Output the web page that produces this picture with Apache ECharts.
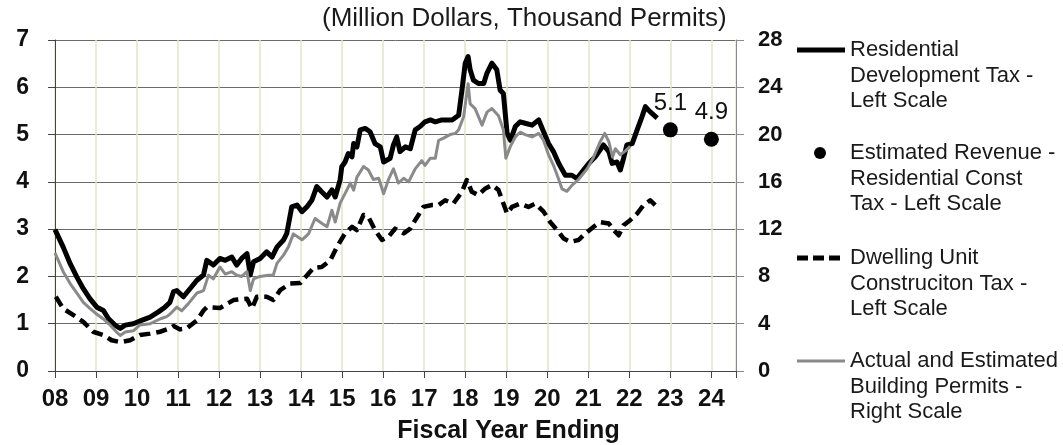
<!DOCTYPE html>
<html>
<head>
<meta charset="utf-8">
<script src="https://cdn.jsdelivr.net/npm/echarts@6/dist/echarts.min.js"></script>
<style>
  html, body { margin: 0; padding: 0; background: #ffffff; }
  #chart { width: 1063px; height: 445px; }
</style>
</head>
<body>
<div id="chart"></div>
<script>
// Residential Development Tax (million dollars, left scale), by fiscal year
const devTaxYears = [8.00, 8.20, 8.37, 8.53, 8.69, 8.85, 9.02, 9.18, 9.30, 9.46, 9.59, 9.71, 9.91, 10.11, 10.32, 10.52, 10.68, 10.80, 10.89, 10.97, 11.13, 11.29, 11.46, 11.62, 11.70, 11.86, 12.02, 12.15, 12.31, 12.43, 12.55, 12.68, 12.76, 12.84, 13.00, 13.16, 13.29, 13.41, 13.57, 13.65, 13.77, 13.90, 14.02, 14.14, 14.26, 14.38, 14.50, 14.63, 14.75, 14.83, 14.95, 14.99, 15.07, 15.15, 15.24, 15.28, 15.36, 15.44, 15.56, 15.68, 15.80, 15.93, 16.01, 16.17, 16.25, 16.33, 16.41, 16.54, 16.66, 16.78, 16.90, 17.02, 17.15, 17.27, 17.43, 17.68, 17.84, 17.92, 18.00, 18.07, 18.12, 18.20, 18.32, 18.45, 18.53, 18.65, 18.77, 18.85, 18.93, 19.02, 19.10, 19.22, 19.34, 19.46, 19.63, 19.79, 19.91, 20.03, 20.15, 20.28, 20.44, 20.60, 20.72, 20.85, 21.01, 21.17, 21.37, 21.50, 21.58, 21.70, 21.78, 21.86, 21.94, 22.07, 22.19, 22.31, 22.39, 22.51, 22.68];
const devTaxValues = [2.99, 2.62, 2.27, 1.99, 1.74, 1.53, 1.35, 1.28, 1.11, 0.97, 0.90, 0.97, 1.00, 1.07, 1.14, 1.25, 1.35, 1.45, 1.68, 1.70, 1.57, 1.74, 1.92, 2.03, 2.34, 2.24, 2.38, 2.34, 2.41, 2.24, 2.38, 2.48, 2.03, 2.31, 2.38, 2.52, 2.41, 2.62, 2.77, 2.91, 3.47, 3.51, 3.37, 3.47, 3.61, 3.90, 3.79, 3.68, 3.83, 3.68, 4.04, 4.32, 4.42, 4.60, 4.53, 4.81, 4.74, 5.10, 5.13, 5.06, 4.81, 4.74, 4.42, 4.50, 4.78, 4.95, 4.64, 4.74, 4.70, 5.10, 5.17, 5.27, 5.31, 5.27, 5.31, 5.31, 5.41, 5.94, 6.51, 6.65, 6.37, 6.15, 6.08, 6.08, 6.30, 6.51, 6.37, 5.94, 5.87, 5.03, 4.88, 5.17, 5.27, 5.24, 5.20, 5.31, 5.06, 4.81, 4.64, 4.39, 4.14, 4.14, 4.07, 4.21, 4.39, 4.53, 4.78, 4.64, 4.39, 4.42, 4.25, 4.50, 4.78, 4.81, 5.10, 5.38, 5.59, 5.48, 5.35];

// Estimated Revenue - Residential Construction Tax (million dollars, left scale)
const estYears = [23, 24];
const estValues = [5.1, 4.9];

// Dwelling Unit Construction Tax (million dollars, left scale)
const dwellYears = [8.02, 8.20, 8.45, 8.69, 8.93, 9.18, 9.38, 9.59, 9.83, 10.07, 10.32, 10.56, 10.80, 10.89, 11.05, 11.21, 11.46, 11.62, 11.70, 12.02, 12.35, 12.68, 12.80, 12.92, 13.16, 13.32, 13.49, 13.73, 13.98, 14.30, 14.50, 14.71, 14.87, 15.07, 15.24, 15.36, 15.52, 15.64, 15.80, 15.97, 16.13, 16.29, 16.50, 16.66, 16.78, 16.86, 16.98, 17.19, 17.35, 17.51, 17.71, 17.92, 18.04, 18.16, 18.32, 18.49, 18.65, 18.81, 18.93, 19.02, 19.14, 19.34, 19.54, 19.71, 19.91, 20.07, 20.24, 20.40, 20.56, 20.76, 20.93, 21.13, 21.29, 21.50, 21.62, 21.74, 21.86, 22.02, 22.19, 22.35, 22.51, 22.63];
const dwellValues = [1.57, 1.32, 1.18, 1.04, 0.83, 0.76, 0.65, 0.61, 0.65, 0.76, 0.79, 0.83, 0.90, 0.95, 0.88, 0.90, 1.07, 1.28, 1.35, 1.33, 1.50, 1.53, 1.32, 1.57, 1.57, 1.50, 1.71, 1.85, 1.86, 2.18, 2.20, 2.34, 2.62, 2.91, 3.05, 2.98, 3.30, 3.26, 2.98, 2.77, 2.84, 3.01, 2.91, 3.01, 3.19, 3.30, 3.47, 3.51, 3.51, 3.61, 3.54, 3.79, 4.04, 3.79, 3.72, 3.86, 3.93, 3.83, 3.54, 3.33, 3.47, 3.54, 3.47, 3.54, 3.37, 3.15, 2.98, 2.80, 2.73, 2.77, 2.91, 3.05, 3.15, 3.12, 2.98, 2.87, 3.08, 3.19, 3.33, 3.51, 3.61, 3.51];

// Actual and Estimated Building Permits (thousand permits, right scale)
const permitYears = [8.00, 8.20, 8.37, 8.53, 8.69, 8.85, 9.02, 9.18, 9.34, 9.50, 9.59, 9.71, 9.91, 10.07, 10.32, 10.56, 10.72, 10.80, 10.97, 11.09, 11.25, 11.46, 11.62, 11.74, 11.86, 12.02, 12.15, 12.31, 12.43, 12.55, 12.68, 12.76, 12.84, 13.00, 13.20, 13.32, 13.41, 13.57, 13.69, 13.81, 14.02, 14.18, 14.34, 14.50, 14.63, 14.75, 14.83, 14.95, 15.07, 15.20, 15.28, 15.36, 15.52, 15.64, 15.76, 15.89, 16.01, 16.13, 16.25, 16.37, 16.50, 16.62, 16.78, 16.94, 17.02, 17.15, 17.27, 17.35, 17.47, 17.63, 17.76, 17.84, 17.96, 18.07, 18.12, 18.24, 18.41, 18.53, 18.65, 18.81, 18.93, 18.99, 19.10, 19.22, 19.34, 19.46, 19.63, 19.79, 19.91, 20.03, 20.15, 20.28, 20.36, 20.48, 20.60, 20.76, 20.97, 21.13, 21.29, 21.40, 21.50, 21.59, 21.66, 21.78, 21.90, 22.02];
const permitValues = [10.0, 8.4, 7.4, 6.6, 5.8, 5.3, 4.8, 4.4, 3.9, 3.3, 3.0, 3.3, 3.4, 3.9, 4.0, 4.4, 4.6, 4.8, 5.4, 5.1, 5.7, 6.6, 6.8, 8.1, 7.8, 8.8, 8.2, 8.4, 8.1, 8.0, 8.4, 6.8, 7.8, 8.0, 8.1, 8.1, 9.1, 9.8, 10.5, 11.6, 11.1, 11.6, 12.9, 12.5, 12.2, 13.6, 12.6, 14.2, 15.0, 15.9, 15.3, 16.4, 17.3, 17.0, 16.2, 16.3, 15.0, 16.2, 17.1, 15.9, 16.3, 16.0, 17.1, 17.8, 17.4, 18.0, 18.0, 19.5, 19.7, 20.0, 20.1, 20.4, 21.5, 24.3, 22.6, 22.2, 20.8, 21.9, 22.2, 21.6, 20.4, 18.0, 19.0, 19.8, 20.2, 20.0, 19.8, 20.1, 19.5, 18.3, 17.4, 16.2, 15.4, 15.2, 15.7, 16.2, 17.1, 18.1, 19.4, 20.1, 19.4, 18.1, 18.8, 18.3, 18.6, 19.0];

// Axis ranges and tick steps
const leftAxisMax = 7, leftAxisStep = 1;
const rightAxisMax = 28, rightAxisStep = 4;
const yearMin = 8, yearMax = 24.6;

// Legend entries (swatch kind + wrapped label lines)
const legendEntries = [
  { kind: 'solid', lines: ['Residential', 'Development Tax -', 'Left Scale'] },
  { kind: 'dot',   lines: ['Estimated Revenue -', 'Residential Const', 'Tax - Left Scale'] },
  { kind: 'dash',  lines: ['Dwelling Unit', 'Construciton Tax -', 'Left Scale'] },
  { kind: 'gray',  lines: ['Actual and Estimated', 'Building Permits -', 'Right Scale'] }
];

const FONT = '"Liberation Sans", Arial, sans-serif';
const GRAY = '#8a8a8a';
const zip = (xs, ys) => xs.map((x, i) => [x, ys[i]]);

// Legend drawn as graphic elements: swatch beside a three-line label
const legendTops = [50, 153, 258, 361];
const legendGraphics = [];
legendEntries.forEach((entry, i) => {
  const cy = legendTops[i];
  if (entry.kind === 'dot') {
    legendGraphics.push({ type: 'circle', shape: { cx: 820, cy: cy, r: 6 }, style: { fill: '#000' } });
  } else {
    const style = { stroke: entry.kind === 'gray' ? GRAY : '#000', lineWidth: entry.kind === 'gray' ? 3 : 5 };
    if (entry.kind === 'dash') style.lineDash = [11, 5];
    legendGraphics.push({ type: 'line', shape: { x1: 797, y1: cy, x2: 845, y2: cy }, style: style });
  }
  legendGraphics.push({
    type: 'text', x: 850, y: cy - 12.75,
    style: { text: entry.lines.join('\n'), font: '22px ' + FONT, fill: '#1a1a1a', lineHeight: 25.5, verticalAlign: 'top' }
  });
});

const chart = echarts.init(document.getElementById('chart'), null, { renderer: 'canvas' });
chart.setOption({
  animation: false,
  backgroundColor: '#ffffff',
  title: {
    text: '(Million Dollars, Thousand Permits)',
    left: 322, top: 6, padding: 0,
    textStyle: { fontFamily: FONT, fontSize: 26, fontWeight: 'normal', color: '#1a1a1a' }
  },
  grid: { left: 55, right: 327, top: 40, bottom: 74, containLabel: false, outerBoundsMode: 'none' },
  xAxis: {
    type: 'value', min: yearMin, max: yearMax, interval: 1,
    name: 'Fiscal Year Ending', nameLocation: 'middle', nameGap: 48,
    nameTextStyle: { fontFamily: FONT, fontSize: 25, fontWeight: 'bold', color: '#111', padding: [0, 0, 0, 226] },
    axisLine: { show: true, onZero: false, lineStyle: { color: '#444', width: 1 } },
    axisTick: { show: true, length: 7, lineStyle: { color: '#444' } },
    axisLabel: {
      margin: 16, fontFamily: FONT, fontSize: 24, fontWeight: 'bold', color: '#111',
      formatter: v => Number.isInteger(v) ? String(v).padStart(2, '0') : ''
    },
    splitLine: { show: true, lineStyle: { color: '#dfe7c6', width: 1.5 } }
  },
  yAxis: [
    {
      type: 'value', min: 0, max: leftAxisMax, interval: leftAxisStep, position: 'left',
      axisLine: { show: true, lineStyle: { color: '#444', width: 1 } },
      axisTick: { show: true, length: 7, lineStyle: { color: '#444' } },
      axisLabel: { margin: 26, fontFamily: FONT, fontSize: 23, fontWeight: 'bold', color: '#111' },
      splitLine: { show: true, lineStyle: { color: '#6a6a6a', width: 1 } }
    },
    {
      type: 'value', min: 0, max: rightAxisMax, interval: rightAxisStep, position: 'right',
      axisLine: { show: true, lineStyle: { color: '#8a8a8a', width: 1 } },
      axisTick: { show: true, length: 8, lineStyle: { color: '#8a8a8a' } },
      axisLabel: { margin: 22, fontFamily: FONT, fontSize: 22, fontWeight: 'bold', color: '#111' },
      splitLine: { show: false }
    }
  ],
  series: [
    {
      name: 'Residential Development Tax - Left Scale', type: 'line', yAxisIndex: 0,
      data: zip(devTaxYears, devTaxValues), symbol: 'none',
      lineStyle: { color: '#000', width: 5, join: 'round' }, z: 3
    },
    {
      name: 'Dwelling Unit Construciton Tax - Left Scale', type: 'line', yAxisIndex: 0,
      data: zip(dwellYears, dwellValues), symbol: 'none',
      lineStyle: { color: '#000', width: 4.5, type: [11, 6], cap: 'butt', join: 'round' }, z: 3
    },
    {
      name: 'Actual and Estimated Building Permits - Right Scale', type: 'line', yAxisIndex: 1,
      data: zip(permitYears, permitValues), symbol: 'none',
      lineStyle: { color: GRAY, width: 3, join: 'round' }, z: 4
    },
    {
      name: 'Estimated Revenue - Residential Const Tax - Left Scale', type: 'scatter', yAxisIndex: 0,
      data: zip(estYears, estValues), symbol: 'circle', symbolSize: 15,
      itemStyle: { color: '#000', opacity: 1 },
      label: {
        show: true, position: 'top', distance: 7,
        formatter: p => p.value[1].toFixed(1),
        fontFamily: FONT, fontSize: 24, color: '#111'
      },
      z: 5
    }
  ],
  graphic: legendGraphics
});
</script>
</body>
</html>
